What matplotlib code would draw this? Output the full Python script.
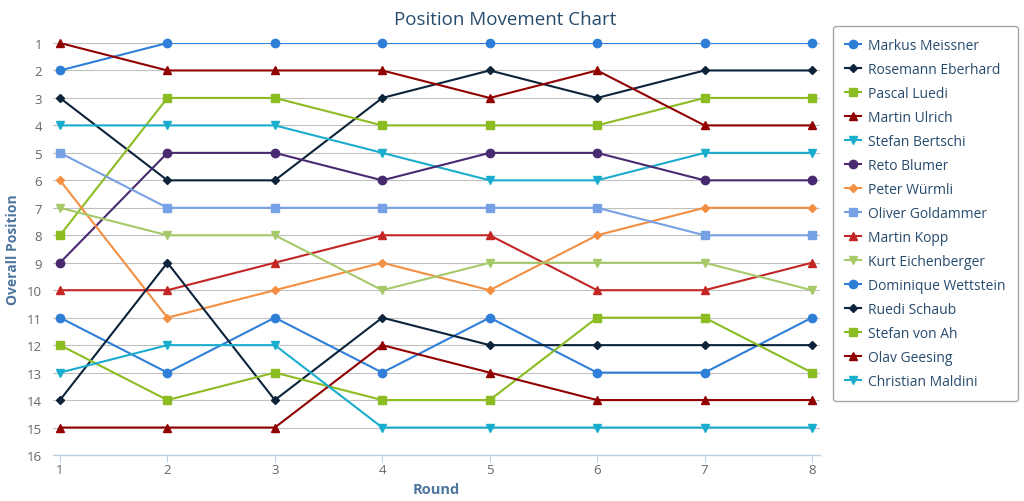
import matplotlib
matplotlib.use('Agg')
import matplotlib.pyplot as plt
from matplotlib.lines import Line2D

rounds = [1, 2, 3, 4, 5, 6, 7, 8]

names = ['Markus Meissner', 'Rosemann Eberhard', 'Pascal Luedi', 'Martin Ulrich',
         'Stefan Bertschi', 'Reto Blumer', 'Peter Würmli', 'Oliver Goldammer',
         'Martin Kopp', 'Kurt Eichenberger', 'Dominique Wettstein', 'Ruedi Schaub',
         'Stefan von Ah', 'Olav Geesing', 'Christian Maldini']

markus_meissner = [2, 1, 1, 1, 1, 1, 1, 1]
rosemann_eberhard = [3, 6, 6, 3, 2, 3, 2, 2]
pascal_luedi = [8, 3, 3, 4, 4, 4, 3, 3]
martin_ulrich = [1, 2, 2, 2, 3, 2, 4, 4]
stefan_bertschi = [4, 4, 4, 5, 6, 6, 5, 5]
reto_blumer = [9, 5, 5, 6, 5, 5, 6, 6]
peter_wuermli = [6, 11, 10, 9, 10, 8, 7, 7]
oliver_goldammer = [5, 7, 7, 7, 7, 7, 8, 8]
martin_kopp = [10, 10, 9, 8, 8, 10, 10, 9]
kurt_eichenberger = [7, 8, 8, 10, 9, 9, 9, 10]
dominique_wettstein = [11, 13, 11, 13, 11, 13, 13, 11]
ruedi_schaub = [14, 9, 14, 11, 12, 12, 12, 12]
stefan_von_ah = [12, 14, 13, 14, 14, 11, 11, 13]
olav_geesing = [15, 15, 15, 12, 13, 14, 14, 14]
christian_maldini = [13, 12, 12, 15, 15, 15, 15, 15]

series = [markus_meissner, rosemann_eberhard, pascal_luedi, martin_ulrich,
          stefan_bertschi, reto_blumer, peter_wuermli, oliver_goldammer,
          martin_kopp, kurt_eichenberger, dominique_wettstein, ruedi_schaub,
          stefan_von_ah, olav_geesing, christian_maldini]

colors = ['#2f7ed8', '#0d233a', '#8bbc21', '#910000', '#1aadce', '#492970',
          '#f28f43', '#77a1e5', '#c42525', '#a6c96a']
markers = ['o', 'D', 's', '^', 'v']
msizes = {'o': 6.0, 'D': 4.2, 's': 5.8, '^': 6.0, 'v': 6.0}

plt.rcParams['font.family'] = ['Open Sans', 'DejaVu Sans']

fig = plt.figure(figsize=(10.24, 5.02), dpi=100)
ax = fig.add_axes([53 / 1024, 1 - 456 / 502, (820 - 53) / 1024, (456 - 44) / 502])

handles = []
for i, (name, pos) in enumerate(zip(names, series)):
    c = colors[i % len(colors)]
    m = markers[i % len(markers)]
    # line clipped to the plot, markers drawn on top without clipping
    ax.plot(rounds, pos, color=c, lw=1.5, zorder=3)
    ax.plot(rounds, pos, color=c, ls='none', marker=m, ms=msizes[m],
            mec=c, clip_on=False, zorder=4)
    handles.append(Line2D([], [], color=c, lw=1.5, marker=m, ms=msizes[m], label=name))

ax.set_xlim(0.935, 8.0745)
ax.set_ylim(16, 1)
ax.set_xticks(rounds)
ax.set_yticks(range(1, 17))
ax.grid(axis='y', color='#c0c0c0', lw=0.8, zorder=0)
ax.grid(axis='x', visible=False)
for s in ['top', 'right', 'left']:
    ax.spines[s].set_visible(False)
ax.spines['bottom'].set_color('#c0d0e0')
ax.spines['bottom'].set_linewidth(1.0)
ax.tick_params(axis='y', length=0, pad=8, labelsize=9.5, labelcolor='#666666')
ax.tick_params(axis='x', length=5, width=0.8, color='#c0d0e0', pad=1,
               labelsize=9.5, labelcolor='#666666')

ax.set_ylabel('Overall Position', color='#4d759e', fontsize=10, fontweight='bold', labelpad=5)
ax.set_xlabel('Round', color='#4d759e', fontsize=10.5, fontweight='bold', labelpad=4)
fig.text(505 / 1024, 1 - 20 / 502, 'Position Movement Chart', ha='center', va='center',
         color='#274b6d', fontsize=13.5)

leg = fig.legend(handles=handles, loc='upper left', bbox_to_anchor=(833 / 1024, 1 - 27 / 502),
                 fontsize=10, labelcolor='#274b6d', frameon=True, fancybox=True,
                 edgecolor='#909090', handlelength=1.2, handletextpad=0.5,
                 labelspacing=0.65, borderpad=0.85, borderaxespad=0)
leg.get_frame().set_linewidth(1.0)

fig.savefig('out.png', dpi=100)
